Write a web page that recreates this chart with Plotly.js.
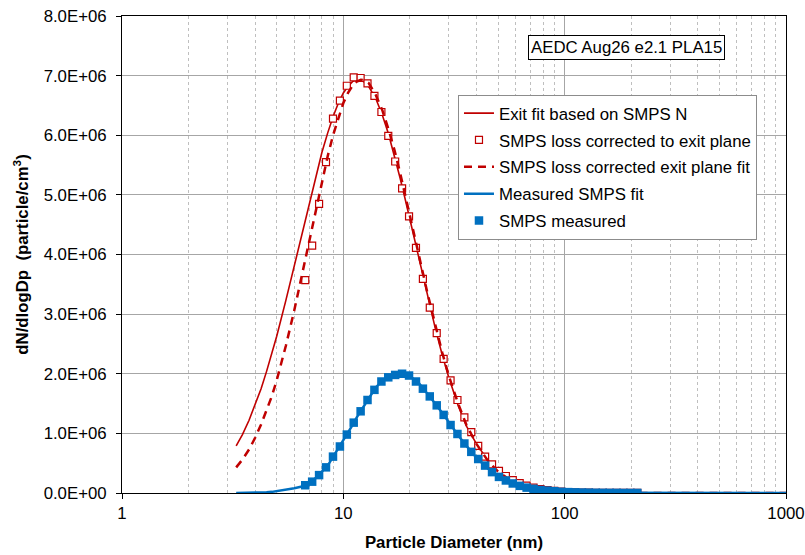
<!DOCTYPE html>
<html>
<head>
<meta charset="utf-8">
<script src="https://cdn.plot.ly/plotly-3.0.1.min.js"></script>
<style>html,body{margin:0;padding:0;background:#fff;}#chart{width:805px;height:555px;}</style>
</head>
<body>
<div id="chart"></div>
<script>
// SMPS channel diameters (nm)
const smpsDiam = [6.73, 7.23, 7.77, 8.35, 8.98, 9.65, 10.37, 11.14, 11.97, 12.86, 13.82, 14.86, 15.96, 17.15, 18.43, 19.81, 21.29, 22.88, 24.58, 26.42, 28.39, 30.51, 32.78, 35.23, 37.86, 40.68, 43.71, 46.98, 50.48, 54.25, 58.29, 62.64, 67.32, 72.34, 77.74, 83.54, 89.77, 96.47, 103.7, 111.4, 119.7, 128.6, 138.2, 148.6, 159.6, 171.5, 184.3, 198.1, 212.9];
// SMPS loss corrected to exit plane (dN/dlogDp)
const smpsCorrected = [3.57e6, 4.15e6, 4.85e6, 5.55e6, 6.28e6, 6.58e6, 6.83e6, 6.97e6, 6.96e6, 6.87e6, 6.66e6, 6.39e6, 5.99e6, 5.56e6, 5.11e6, 4.64e6, 4.11e6, 3.59e6, 3.11e6, 2.68e6, 2.25e6, 1.89e6, 1.56e6, 1.27e6, 1.02e6, 0.79e6, 0.61e6, 0.48e6, 0.37e6, 0.285e6, 0.215e6, 0.165e6, 0.125e6, 0.09e6, 0.065e6, 0.048e6, 0.035e6, 0.025e6, 0.017e6, 0.012e6, 0.008e6, 0.006e6, 0.004e6, 0.003e6, 0.002e6, 0.002e6, 0.001e6, 0.001e6, 0.001e6];
// SMPS measured
const smpsMeasured = [0.13e6, 0.19e6, 0.30e6, 0.43e6, 0.61e6, 0.78e6, 0.98e6, 1.18e6, 1.37e6, 1.56e6, 1.73e6, 1.87e6, 1.94e6, 1.98e6, 2.00e6, 1.97e6, 1.87e6, 1.75e6, 1.62e6, 1.47e6, 1.31e6, 1.14e6, 0.99e6, 0.83e6, 0.69e6, 0.57e6, 0.46e6, 0.35e6, 0.27e6, 0.21e6, 0.16e6, 0.12e6, 0.09e6, 0.07e6, 0.05e6, 0.04e6, 0.03e6, 0.02e6, 0.015e6, 0.011e6, 0.008e6, 0.006e6, 0.004e6, 0.003e6, 0.002e6, 0.002e6, 0.001e6, 0.001e6, 0.001e6];

// Fit curve diameters (nm)
const fitDiam = [3.28, 3.5, 3.75, 4, 4.25, 4.5, 4.75, 5, 5.5, 6, 6.5, 7, 7.5, 8, 8.5, 9, 9.5, 10, 10.5, 11, 11.5, 12, 12.5, 13, 14, 15, 16, 17, 18, 19, 20, 22, 24, 26, 28, 30, 33, 36, 40, 45, 50, 55, 60, 70, 80, 90, 100, 120, 150, 200, 300, 500, 1000];
// Exit fit based on SMPS N
const exitFit = [0.79e6, 0.98e6, 1.22e6, 1.48e6, 1.75e6, 2.04e6, 2.33e6, 2.63e6, 3.23e6, 3.81e6, 4.36e6, 4.86e6, 5.32e6, 5.71e6, 6.04e6, 6.32e6, 6.54e6, 6.71e6, 6.82e6, 6.90e6, 6.93e6, 6.92e6, 6.89e6, 6.82e6, 6.62e6, 6.34e6, 6.02e6, 5.67e6, 5.30e6, 4.94e6, 4.58e6, 3.90e6, 3.29e6, 2.77e6, 2.31e6, 1.93e6, 1.47e6, 1.12e6, 0.82e6, 0.55e6, 0.37e6, 0.26e6, 0.18e6, 0.09e6, 0.05e6, 0.025e6, 0.015e6, 0.005e6, 0.001e6, 0, 0, 0, 0];
// SMPS loss corrected exit plane fit
const correctedFit = [0.43e6, 0.56e6, 0.73e6, 0.93e6, 1.15e6, 1.38e6, 1.62e6, 1.89e6, 2.47e6, 3.06e6, 3.65e6, 4.22e6, 4.75e6, 5.23e6, 5.65e6, 6.01e6, 6.30e6, 6.54e6, 6.71e6, 6.83e6, 6.90e6, 6.93e6, 6.92e6, 6.88e6, 6.68e6, 6.42e6, 6.10e6, 5.76e6, 5.39e6, 5.02e6, 4.66e6, 3.97e6, 3.35e6, 2.81e6, 2.35e6, 1.96e6, 1.50e6, 1.14e6, 0.82e6, 0.54e6, 0.36e6, 0.25e6, 0.17e6, 0.085e6, 0.045e6, 0.024e6, 0.014e6, 0.005e6, 0.001e6, 0, 0, 0, 0];
// Measured SMPS fit
const measuredFit = [0, 0.001e6, 0.002e6, 0.004e6, 0.007e6, 0.012e6, 0.019e6, 0.03e6, 0.05e6, 0.08e6, 0.11e6, 0.16e6, 0.25e6, 0.35e6, 0.46e6, 0.61e6, 0.75e6, 0.88e6, 1.01e6, 1.14e6, 1.27e6, 1.38e6, 1.48e6, 1.60e6, 1.77e6, 1.88e6, 1.95e6, 1.98e6, 2.00e6, 1.99e6, 1.96e6, 1.84e6, 1.67e6, 1.50e6, 1.34e6, 1.18e6, 0.97e6, 0.79e6, 0.59e6, 0.41e6, 0.28e6, 0.20e6, 0.14e6, 0.08e6, 0.045e6, 0.03e6, 0.018e6, 0.008e6, 0.003e6, 0.001e6, 0, 0, 0];

const yTickVals = [0, 1e6, 2e6, 3e6, 4e6, 5e6, 6e6, 7e6, 8e6];
const yTickText = ["0.0E+00", "1.0E+06", "2.0E+06", "3.0E+06", "4.0E+06", "5.0E+06", "6.0E+06", "7.0E+06", "8.0E+06"];
const xTickVals = [1, 10, 100, 1000];
const xTickText = ["1", "10", "100", "1000"];

const RED = '#C00000';
const BLUE = '#0070C0';
const FONT = 'Liberation Sans, Arial, sans-serif';
const FS = 16.8;

const traces = [
  {x: fitDiam, y: exitFit, mode: 'lines', name: 'Exit fit based on SMPS N',
   line: {color: RED, width: 1.6}, legendgroup: 'a'},
  {x: smpsDiam, y: smpsCorrected, mode: 'markers', name: 'SMPS loss corrected to exit plane',
   marker: {symbol: 'square', size: 7, color: '#ffffff', line: {color: RED, width: 1.2}}, legendgroup: 'b'},
  {x: fitDiam, y: correctedFit, mode: 'lines', name: 'SMPS loss corrected exit plane fit',
   line: {color: RED, width: 2.5, dash: '8px,6px'}, legendgroup: 'c'},
  {x: fitDiam, y: measuredFit, mode: 'lines', name: 'Measured SMPS fit',
   line: {color: BLUE, width: 2.5}, legendgroup: 'd'},
  {x: smpsDiam, y: smpsMeasured, mode: 'markers', name: 'SMPS measured',
   marker: {symbol: 'square', size: 8.5, color: BLUE, line: {color: BLUE, width: 0}}, legendgroup: 'e'}
];

const layout = {
  width: 805, height: 555,
  margin: {l: 122, r: 19, t: 16, b: 62},
  paper_bgcolor: '#ffffff', plot_bgcolor: '#ffffff',
  font: {family: FONT, size: FS, color: '#000000'},
  showlegend: true,
  legend: {x: 0.506, y: 0.835, xanchor: 'left', yanchor: 'top',
    bgcolor: '#ffffff', bordercolor: '#8c8c8c', borderwidth: 1,
    font: {family: FONT, size: FS, color: '#000000'},
    traceorder: 'grouped', tracegroupgap: 2},
  xaxis: {type: 'log', range: [0, 3], tickvals: xTickVals, ticktext: xTickText,
    showgrid: true, gridcolor: '#a6a6a6', gridwidth: 1,
    minor: {dtick: 'D1', showgrid: true, gridcolor: '#bfbfbf', griddash: 'dot', gridwidth: 1, ticks: ''},
    showline: true, linecolor: '#000000', linewidth: 1, mirror: true,
    ticks: 'outside', ticklen: 5, tickcolor: '#000000',
    tickfont: {family: FONT, size: FS, color: '#000000'},
    zeroline: false,
    title: {text: 'Particle Diameter (nm)', font: {family: FONT, size: FS, color: '#000000', weight: 'bold'}, standoff: 14}},
  yaxis: {range: [0, 8e6], tickvals: yTickVals, ticktext: yTickText,
    showgrid: true, gridcolor: '#a6a6a6', gridwidth: 1,
    showline: true, linecolor: '#000000', linewidth: 1, mirror: true,
    ticks: 'outside', ticklen: 5, tickcolor: '#000000', ticklabelstandoff: 6,
    tickfont: {family: FONT, size: FS, color: '#000000'},
    zeroline: false,
    title: {text: 'dN/dlogDp  (particle/cm<sup>3</sup>)', font: {family: FONT, size: FS, color: '#000000', weight: 'bold'}, standoff: 10}},
  annotations: [{
    xref: 'paper', yref: 'paper', x: 0.7605, y: 0.933, xanchor: 'center', yanchor: 'middle',
    text: 'AEDC Aug26 e2.1 PLA15', showarrow: false,
    font: {family: FONT, size: FS, color: '#000000'},
    bgcolor: '#ffffff', bordercolor: '#000000', borderwidth: 1, borderpad: 2
  }]
};

Plotly.newPlot('chart', traces, layout, {displayModeBar: false, staticPlot: true});
</script>
</body>
</html>
